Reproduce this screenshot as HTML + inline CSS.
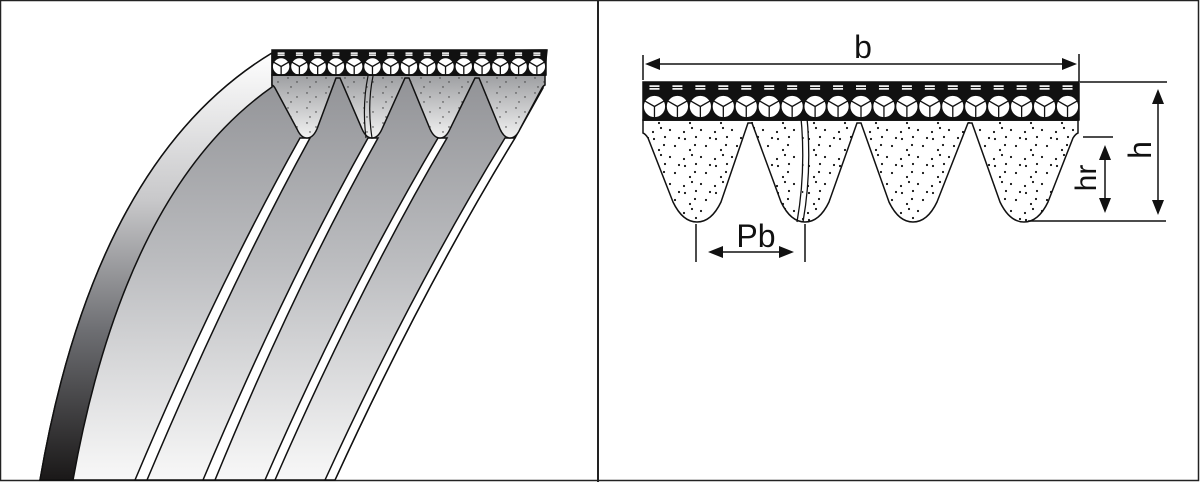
<!DOCTYPE html>
<html><head><meta charset="utf-8"><style>
html,body{margin:0;padding:0;background:#fff;}
svg{display:block}
text{font-family:"Liberation Sans",Arial,sans-serif;}
</style></head><body>
<svg id="s" width="1200" height="482" viewBox="0 0 1200 482" xmlns="http://www.w3.org/2000/svg">
<defs>
<linearGradient id="gray" x1="0" y1="0" x2="0" y2="1" gradientUnits="objectBoundingBox">
<stop offset="0" stop-color="#8c8d91"/><stop offset="0.5" stop-color="#bcbdc0"/><stop offset="1" stop-color="#f8f8f8"/></linearGradient>
<linearGradient id="face" x1="0" y1="50" x2="0" y2="480" gradientUnits="userSpaceOnUse">
<stop offset="0" stop-color="#ffffff"/><stop offset="0.35" stop-color="#c8c8ca"/><stop offset="0.65" stop-color="#6e6f73"/><stop offset="1" stop-color="#1a1818"/></linearGradient>
<linearGradient id="ribg" x1="0" y1="75" x2="0" y2="138" gradientUnits="userSpaceOnUse">
<stop offset="0" stop-color="#9d9ea1"/><stop offset="1" stop-color="#f2f2f2"/></linearGradient>
<pattern id="dots" width="31" height="27" patternUnits="userSpaceOnUse">
<rect width="31" height="27" fill="#fff"/>
<circle cx="3" cy="4" r="1.1" fill="#111"/><circle cx="14" cy="2" r="1.1" fill="#111"/>
<circle cx="24" cy="11" r="1.1" fill="#111"/><circle cx="8" cy="15" r="1.1" fill="#111"/>
<circle cx="19" cy="22" r="1.1" fill="#111"/><circle cx="28" cy="3" r="1.1" fill="#111"/>
<circle cx="2" cy="24" r="1.1" fill="#111"/><circle cx="13" cy="10" r="1.1" fill="#111"/>
<circle cx="10" cy="20" r="1.1" fill="#111"/>
</pattern>
<pattern id="dots2" width="19" height="15" patternUnits="userSpaceOnUse">
<circle cx="3" cy="3" r="0.7" fill="#333"/><circle cx="12" cy="7" r="0.7" fill="#333"/>
<circle cx="6" cy="12" r="0.7" fill="#333"/>
</pattern>
</defs>
<rect x="0.5" y="0.5" width="1198" height="480" fill="none" stroke="#222" stroke-width="1.5"/>
<line x1="598" y1="0" x2="598" y2="482" stroke="#222" stroke-width="2"/>

<path d="M272,53 Q95,160 40,480 L335,480 Q422,290 515,138 L543,88 L547,50 Z" fill="url(#gray)" stroke="#111" stroke-width="1.5"/>
<path d="M272,53 Q95,160 40,480 L73,480 Q125,190 272,87 Z" fill="url(#face)" stroke="#111" stroke-width="1.5"/>
<path d="M300,138 Q215,290 135,480 L147,480 Q227,290 310,138 Z" fill="#fff" stroke="#111" stroke-width="1.5"/>
<path d="M368,138 Q283,290 203,480 L215,480 Q293,290 378,138 Z" fill="#fff" stroke="#111" stroke-width="1.5"/>
<path d="M438,138 Q348,290 265,480 L275,480 Q358,290 447,138 Z" fill="#fff" stroke="#111" stroke-width="1.5"/>
<path d="M505,138 Q412,290 325,480 L335,480 Q422,290 515,138 Z" fill="#fff" stroke="#111" stroke-width="1.5"/>
<g id="leftribs"></g>
<g id="lefttop"></g>

<g id="rightribs"></g>
<g id="righttop"></g>

<g stroke="#111" stroke-width="1.5" fill="none">
<line x1="643" y1="55" x2="643" y2="80"/>
<line x1="1079" y1="54" x2="1079" y2="82"/>
<line x1="655" y1="64" x2="1068" y2="64"/>
<line x1="1080" y1="82" x2="1167" y2="82"/>
<line x1="1028" y1="221" x2="1166" y2="221"/>
<line x1="1083" y1="137" x2="1113" y2="137"/>
<line x1="1158" y1="98" x2="1158" y2="206"/>
<line x1="1105" y1="152" x2="1105" y2="205"/>
<line x1="696" y1="224" x2="696" y2="262"/>
<line x1="805" y1="224" x2="805" y2="262"/>
<line x1="718" y1="252" x2="784" y2="252"/>
</g>
<g fill="#111">
<polygon points="645,64 660,58 660,70"/>
<polygon points="1077,64 1062,58 1062,70"/>
<polygon points="1158,89 1152,104 1164,104"/>
<polygon points="1158,215 1152,200 1164,200"/>
<polygon points="1105,145 1099,160 1111,160"/>
<polygon points="1105,213 1099,198 1111,198"/>
<polygon points="708,252 723,246 723,258"/>
<polygon points="794,252 779,246 779,258"/>
</g>
<text x="863" y="58" font-size="32" text-anchor="middle" fill="#111">b</text>
<text x="756" y="247" font-size="32" text-anchor="middle" fill="#111">Pb</text>
<text transform="translate(1151,150) rotate(-90)" font-size="32" text-anchor="middle" fill="#111">h</text>
<text transform="translate(1096,178) rotate(-90)" font-size="30" text-anchor="middle" fill="#111">hr</text>
</svg>
<script>
var NS="http://www.w3.org/2000/svg";
function el(p,t,a){var e=document.createElementNS(NS,t);for(var k in a)e.setAttribute(k,a[k]);p.appendChild(e);return e;}
function ribPath(x0,x1,topY,cornerY,bot,centers,peaks,rw,rh,cr){
 var d="M"+x0+","+topY+" L"+x0+","+cornerY+" Q"+(x0+cr*0.5)+","+(cornerY+cr*0.2)+" "+(x0+cr)+","+(cornerY+cr);
 for(var i=0;i<centers.length;i++){var c=centers[i];
  d+=" L"+(c-rw)+","+(bot-rh)+" Q"+(c-rw*0.6)+","+bot+" "+c+","+bot+" Q"+(c+rw*0.6)+","+bot+" "+(c+rw)+","+(bot-rh);
  if(i<peaks.length){d+=" L"+(peaks[i]-2)+","+(topY+3)+" L"+(peaks[i]+2)+","+(topY+3);}
 }
 d+=" L"+(x1-cr)+","+(cornerY+cr)+" Q"+(x1-cr*0.5)+","+(cornerY+cr*0.2)+" "+x1+","+cornerY+" L"+x1+","+topY+" Z";
 return d;}
function band(g,x0,x1,y0,y1,y2,r,n,dashW){
 el(g,"rect",{x:x0,y:y0,width:x1-x0,height:y2-y0,fill:"#111"});
 var pitch=(x1-x0)/n;
 for(var i=0;i<n;i++){var cx=x0+pitch*(i+0.5);
  el(g,"rect",{x:cx-dashW/2,y:y0+(y1-y0)*0.3,width:dashW,height:Math.max(1.5,(y1-y0)*0.15),fill:"#fff"});
  el(g,"rect",{x:cx-dashW/2,y:y0+(y1-y0)*0.55,width:dashW,height:Math.max(1.5,(y1-y0)*0.15),fill:"#fff"});
  var cy=(y1+y2)/2;
  el(g,"circle",{cx:cx,cy:cy,r:r,fill:"#fff",stroke:"#111","stroke-width":1.2});
  el(g,"path",{d:"M"+cx+","+cy+" L"+cx+","+(cy+r)+" M"+cx+","+cy+" L"+(cx-r*0.87)+","+(cy-r*0.5)+" M"+cx+","+cy+" L"+(cx+r*0.87)+","+(cy-r*0.5),stroke:"#111","stroke-width":1.3,fill:"none"});
 }
 el(g,"line",{x1:x0,y1:y2,x2:x1,y2:y2,stroke:"#111","stroke-width":1.8});
 el(g,"rect",{x:x0,y:y0,width:x1-x0,height:y2-y0,fill:"none",stroke:"#111","stroke-width":1.5});
}
var lr=document.getElementById("leftribs");
var dL=ribPath(272,545,75,85,138,[307,372,440,510],[338,407,477],10,9,3);
el(lr,"path",{d:dL,fill:"url(#ribg)",stroke:"#111","stroke-width":1.5});
el(lr,"path",{d:dL,fill:"url(#dots2)",stroke:"none"});
el(lr,"path",{d:"M368,76 Q362,105 366,138 M373,76 Q367,105 372,138",stroke:"#111","stroke-width":1.2,fill:"none"});
band(document.getElementById("lefttop"),272,546,50,58,75,8.8,15,7);
var rr=document.getElementById("rightribs");
var dR=ribPath(643,1078,120,133,222,[697,805,913,1024],[750,859,970],24,20,5);
el(rr,"path",{d:dR,fill:"url(#dots)",stroke:"#111","stroke-width":1.5});
el(rr,"path",{d:"M798,92 Q808,160 797,222 M804,92 Q814,160 803,222",stroke:"#111","stroke-width":1.3,fill:"#fff"});
band(document.getElementById("righttop"),643,1079,82,93,120,11.2,19,10);
</script>
</body></html>
